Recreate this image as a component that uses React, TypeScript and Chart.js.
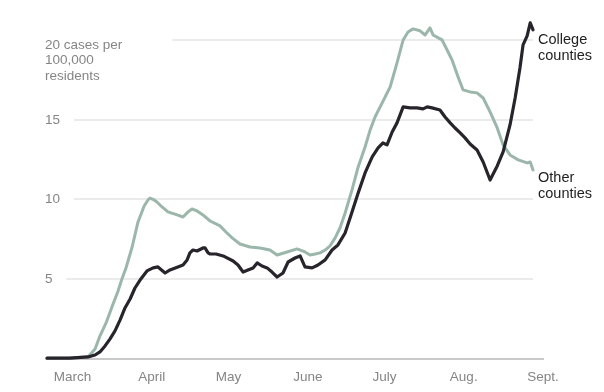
import React, { useEffect, useRef } from "react";
import { Chart, registerables } from "chart.js";

Chart.register(...registerables);

// Days counted from March 1 (day 0)
const COLLEGE_DAYS = [-10, -1, 6, 8.8, 10.7, 12.7, 14.6, 16.6, 18.6, 20.5, 22.5, 24.4, 26.4, 29.1, 31.5, 33.4, 36.2, 38.1, 41.2, 43.2, 44.8, 45.9, 47.1, 48.7, 51, 51.8, 53, 53.8, 56.1, 58.9, 62.8, 64.7, 66.7, 68.6, 70.6, 72.2, 74.1, 76.1, 78, 80, 82.3, 84.3, 87, 89, 90.9, 93.7, 96, 98.8, 101.5, 103.8, 106.6, 109.3, 111.7, 114.4, 117.2, 119.5, 121.4, 123, 125, 126.9, 129.3, 132, 134.7, 137.1, 138.7, 140.6, 143.7, 145.7, 147.7, 149.6, 151.6, 153.5, 155.5, 158.2, 160.6, 163.3, 166.1, 168.4, 171.1, 173.1, 175, 176.2, 177.8, 179, 180.1];
const COLLEGE_VALUES = [0.05, 0.06, 0.13, 0.25, 0.44, 0.82, 1.25, 1.76, 2.45, 3.2, 3.76, 4.45, 4.95, 5.52, 5.71, 5.77, 5.39, 5.58, 5.77, 5.89, 6.21, 6.65, 6.83, 6.77, 6.96, 6.96, 6.65, 6.58, 6.58, 6.46, 6.14, 5.89, 5.45, 5.58, 5.71, 6.02, 5.83, 5.71, 5.45, 5.14, 5.39, 6.08, 6.33, 6.46, 5.77, 5.71, 5.89, 6.21, 6.83, 7.15, 7.9, 9.22, 10.41, 11.66, 12.67, 13.23, 13.54, 13.42, 14.23, 14.8, 15.8, 15.74, 15.74, 15.68, 15.8, 15.74, 15.61, 15.17, 14.8, 14.48, 14.17, 13.86, 13.48, 13.1, 12.35, 11.22, 12.1, 12.98, 14.67, 16.36, 18.25, 19.69, 20.25, 21.07, 20.63];

const OTHER_DAYS = [-10, -1, 6, 8.8, 10.7, 13.1, 15.4, 17.8, 19.3, 20.9, 23.3, 25.6, 28, 29.5, 30.3, 31.9, 33, 35, 37.3, 40.9, 43.2, 45.2, 46.7, 48.7, 51, 53.8, 57.7, 60, 62.4, 65.5, 69.4, 73.3, 77.2, 80, 83.9, 87.8, 90.9, 92.9, 94.9, 96.8, 98.8, 100.7, 102.7, 104.6, 106.6, 109.3, 111.7, 114.4, 116.4, 118.3, 121.1, 124.2, 126.9, 129.3, 131.2, 133.2, 135.9, 137.9, 139.8, 141, 144.5, 146.5, 148.4, 150.8, 152.7, 155.5, 158.2, 160.6, 163.3, 166.1, 168.4, 171.1, 174.3, 177.8, 179, 180.1];
const OTHER_VALUES = [0.05, 0.06, 0.13, 0.63, 1.44, 2.26, 3.26, 4.26, 5.02, 5.71, 7.02, 8.59, 9.59, 9.97, 10.09, 9.97, 9.84, 9.53, 9.22, 9.03, 8.9, 9.22, 9.4, 9.28, 9.03, 8.65, 8.34, 7.96, 7.59, 7.21, 7.02, 6.96, 6.83, 6.52, 6.71, 6.9, 6.71, 6.52, 6.58, 6.65, 6.83, 7.09, 7.59, 8.21, 9.15, 10.6, 12.04, 13.29, 14.36, 15.17, 16.05, 17.05, 18.56, 20.0, 20.5, 20.69, 20.57, 20.31, 20.75, 20.31, 20.0, 19.37, 18.75, 17.68, 16.87, 16.74, 16.68, 16.36, 15.49, 14.48, 13.42, 12.79, 12.48, 12.29, 12.35, 11.85];

const MONTH_DAYS = [0, 31, 61, 92, 122, 153, 184];
const MONTH_LABELS = ["March", "April", "May", "June", "July", "Aug.", "Sept."];

const Y_TICKS = [5, 10, 15, 20];
const Y_TICK_LABELS = [["5"], ["10"], ["15"], ["20 cases per", "100,000", "residents"]];

const SERIES_NAMES = [["College", "counties"], ["Other", "counties"]];

const FONT = '"Liberation Sans", Arial, sans-serif';
const GRAY_TEXT = "#858585";

export default function App() {
  const ref = useRef<HTMLCanvasElement>(null);

  useEffect(() => {
    if (!ref.current) return;

    const gridPlugin = {
      id: "yGridLabels",
      beforeDatasetsDraw(chart: any) {
        const { ctx, chartArea, scales } = chart;
        const y = scales.y;
        ctx.save();
        ctx.font = `13.5px ${FONT}`;
        ctx.fillStyle = GRAY_TEXT;
        ctx.textAlign = "left";
        ctx.textBaseline = "middle";
        Y_TICKS.forEach((v, i) => {
          const lines = Y_TICK_LABELS[i];
          const py = Math.round(y.getPixelForValue(v));
          const multi = lines.length > 1;
          const x0 = chartArea.left - 2;
          let w = 0;
          lines.forEach((ln, k) => {
            ctx.fillText(ln, x0, py + (multi ? 5 : 0) + k * 15.5);
            w = Math.max(w, ctx.measureText(ln).width);
          });
          const start = x0 + w + (multi ? 50 : 14);
          ctx.strokeStyle = "#e4e4e4";
          ctx.lineWidth = 1.5;
          ctx.beginPath();
          ctx.moveTo(start, py);
          ctx.lineTo(chartArea.right - 10, py);
          ctx.stroke();
        });
        ctx.restore();
      },
    };

    const OFFSETS = [10, 8];
    const endLabelPlugin = {
      id: "endLabels",
      afterDatasetsDraw(chart: any) {
        const { ctx } = chart;
        ctx.save();
        ctx.font = `14.5px ${FONT}`;
        ctx.fillStyle = "#222";
        ctx.textAlign = "left";
        ctx.textBaseline = "middle";
        SERIES_NAMES.forEach((lines, i) => {
          const meta = chart.getDatasetMeta(i);
          const last = meta.data[meta.data.length - 1];
          if (!last) return;
          lines.forEach((ln, k) => {
            ctx.fillText(ln, last.x + 5, last.y + OFFSETS[i] + k * 16);
          });
        });
        ctx.restore();
      },
    };

    const chart = new Chart(ref.current, {
      type: "line",
      data: {
        datasets: [
          {
            label: "College counties",
            data: COLLEGE_DAYS.map((d, i) => ({ x: d, y: COLLEGE_VALUES[i] })),
            borderColor: "#28242b",
            borderWidth: 3.2,
            pointRadius: 0,
            tension: 0,
            borderJoinStyle: "round",
            borderCapStyle: "round",
            clip: false,
          },
          {
            label: "Other counties",
            data: OTHER_DAYS.map((d, i) => ({ x: d, y: OTHER_VALUES[i] })),
            borderColor: "#9bb6ab",
            borderWidth: 3,
            pointRadius: 0,
            tension: 0,
            borderJoinStyle: "round",
            borderCapStyle: "round",
            clip: false,
          },
        ],
      },
      options: {
        animation: false,
        responsive: true,
        maintainAspectRatio: false,
        layout: { padding: { left: 39, right: 53, top: 0, bottom: 0 } },
        plugins: {
          legend: { display: false },
          tooltip: { enabled: false },
        },
        scales: {
          x: {
            type: "linear",
            min: -10,
            max: 184,
            afterBuildTicks: (s: any) => {
              s.ticks = MONTH_DAYS.map((v) => ({ value: v }));
            },
            afterFit: (s: any) => {
              s.height = 33;
            },
            grid: { display: false, drawTicks: false },
            border: { display: true, color: "#c9c9c9", width: 2 },
            ticks: {
              autoSkip: false,
              maxRotation: 0,
              padding: 10,
              color: GRAY_TEXT,
              font: { family: FONT, size: 13.5 },
              callback: (v: any) => {
                const idx = MONTH_DAYS.indexOf(Number(v));
                return idx >= 0 ? MONTH_LABELS[idx] : "";
              },
            },
          },
          y: { display: false, min: 0, max: 22 },
        },
      },
      plugins: [gridPlugin, endLabelPlugin],
    });

    return () => chart.destroy();
  }, []);

  return (
    <div style={{ position: "relative", width: 588, height: 376 }}>
      <div style={{ position: "absolute", left: 0, top: 0, width: 588, height: 384 }}>
        <canvas ref={ref} />
      </div>
    </div>
  );
}
